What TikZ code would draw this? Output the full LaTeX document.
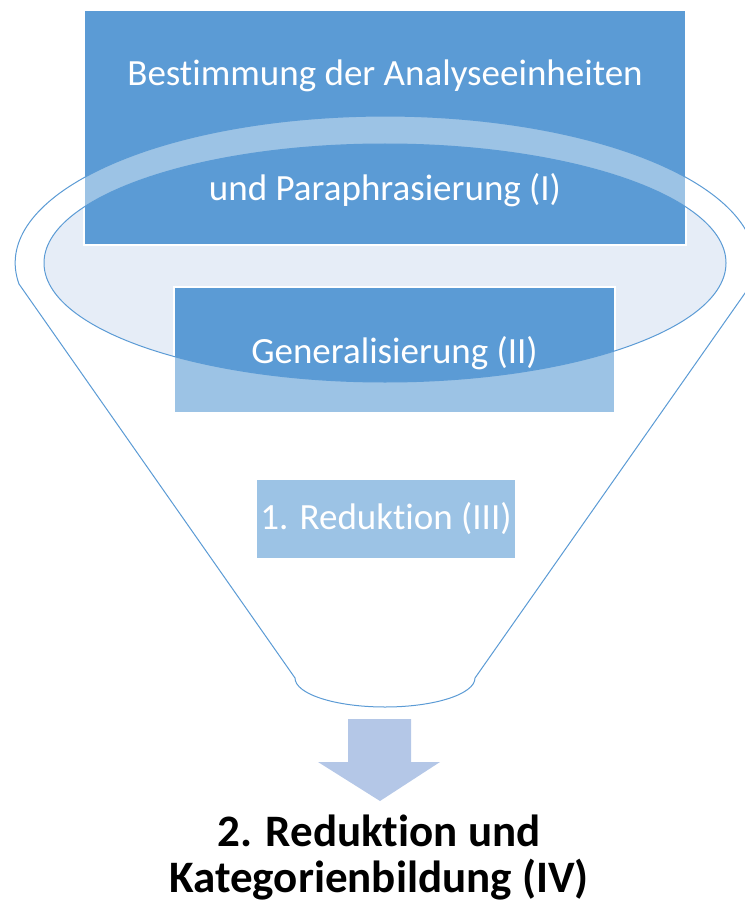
\documentclass[tikz,border=0pt]{standalone}
\usepackage{fontspec}
\setmainfont{Carlito}[Ligatures=NoCommon]
\usepackage{tikz}
\definecolor{stepblue}{HTML}{5B9BD5}
\definecolor{rimfill}{HTML}{E6EDF7}
\definecolor{arrowblue}{HTML}{B4C7E7}
\tikzset{stage/.style={rectangle, draw=white, line width=1.5pt, fill=stepblue, text=white,
    inner sep=0pt, font=\fontsize{37}{45}\selectfont, align=center}}
\tikzset{funnel/.style={draw=stepblue, line width=1pt, fill=white, fill opacity=0.4, even odd rule}}

\begin{document}
\begin{tikzpicture}[x=1pt,y=-1pt]
		\useasboundingbox (0,0) rectangle (744,904);
		\fill[rimfill] (385,263) ellipse [x radius=341, y radius=119];
		\node[stage, minimum width=602, minimum height=235] (analyse) at (385,127.5) {\rule{0pt}{37pt}Bestimmung der Analyseeinheiten\\[70pt]und Paraphrasierung (I)};
		\node[stage, minimum width=441, minimum height=126] (general) at (394.5,350) {\rule{0pt}{33pt}Generalisierung (II)};
		\node[stage, minimum width=260, minimum height=80] (reduktion) at (386,519) {1. Reduktion (III)};
		\coordinate (rimleft) at (19,284);
		\coordinate (spoutright) at (475,678);
		\path[funnel] (rimleft) arc[start angle=171.8, end angle=368.2, x radius=370, y radius=147]
			-- (spoutright) arc[start angle=0, end angle=180, x radius=90, y radius=29] -- cycle
			(385,263) ellipse [x radius=341, y radius=119];
		\fill[arrowblue] (348,719) -- (411,719) -- (411,762) -- (440,762) -- (380,801)
			-- (318,762) -- (348,762) -- cycle;
		\node[font=\bfseries\fontsize{45}{46}\selectfont, align=center] (kategorien) at (379,858) {2. Reduktion und\\Kategorienbildung (IV)};
		\end{tikzpicture}
\end{document}
